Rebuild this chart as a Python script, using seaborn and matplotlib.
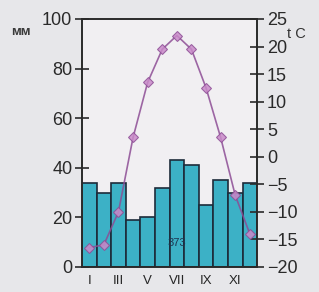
import matplotlib
matplotlib.use("Agg")
import matplotlib.pyplot as plt
import seaborn as sns
import numpy as np
import pandas as pd

# climate diagram data
months = ["I", "II", "III", "IV", "V", "VI", "VII", "VIII", "IX", "X", "XI", "XII"]
precip_mm = [34, 30, 34, 19, 20, 32, 43, 41, 25, 35, 30, 34]
temp_c = [-16.5, -16, -10, 3.5, 13.5, 19.5, 22, 19.5, 12.5, 3.5, -7, -14]
month_labels = ["I", "III", "V", "VII", "IX", "XI"]
annual_total = "373"

sns.set_style("white")
plt.rcParams["font.family"] = ["Liberation Sans", "DejaVu Sans"]

df = pd.DataFrame({"month": months, "precip": precip_mm, "temp": temp_c})

fig = plt.figure(figsize=(3.19, 2.92), dpi=100, facecolor="#e7e7ea")
ax = fig.add_axes([0.257, 0.086, 0.549, 0.849])
ax.set_facecolor("#f1eff2")

sns.barplot(data=df, x="month", y="precip", order=months, color="#3cb1c6",
            saturation=1, width=1.0, edgecolor="#1d2b3a", linewidth=1.2, ax=ax)
ax.set_xlim(-0.5, 11.5)
ax.set_ylim(0, 100)
ax.set_xlabel("")
ax.set_ylabel("")

ax2 = ax.twinx()
sns.lineplot(x=np.arange(12), y=df["temp"], color="#8d4d95", linewidth=1.2,
             marker="D", markersize=5, markerfacecolor="#c98ac9",
             markeredgecolor="#8d4d95", alpha=0.85, ax=ax2)
ax2.set_ylim(-20, 25)
ax2.set_xlim(-0.5, 11.5)
ax2.set_ylabel("")

for a in (ax, ax2):
    for s in a.spines.values():
        s.set_color("#2a2a2a")
        s.set_linewidth(1.2)

ax.set_yticks(range(0, 101, 20))
ax.tick_params(axis="y", direction="inout", length=10, width=1.2,
               labelsize=13, colors="#2a2a2a", pad=2)
ax2.set_yticks(range(-20, 26, 5))
ax2.tick_params(axis="y", direction="inout", length=10, width=1.2,
                labelsize=13, colors="#2a2a2a", pad=2)

ax.set_xticks(np.arange(-0.5, 12, 1))
ax.set_xticklabels([])
ax.tick_params(axis="x", direction="inout", length=10, width=1.2, colors="#2a2a2a")
ax.set_xticks([0, 2, 4, 6, 8, 10], minor=True)
ax.set_xticklabels(month_labels, minor=True)
ax.tick_params(axis="x", which="minor", length=0, labelsize=9.5, pad=6)
ax2.set_xticks([])

fig.text(0.035, 0.89, "мм", fontsize=9.5, fontweight="bold", color="#3a3a3a",
         va="center")
fig.text(0.9, 0.885, "t C", fontsize=10.5, color="#333333", va="center")
ax.text(6, 9.5, annual_total, ha="center", va="center", fontsize=8,
        color="#1d3550")

fig.savefig("out.png", dpi=100, facecolor=fig.get_facecolor())
